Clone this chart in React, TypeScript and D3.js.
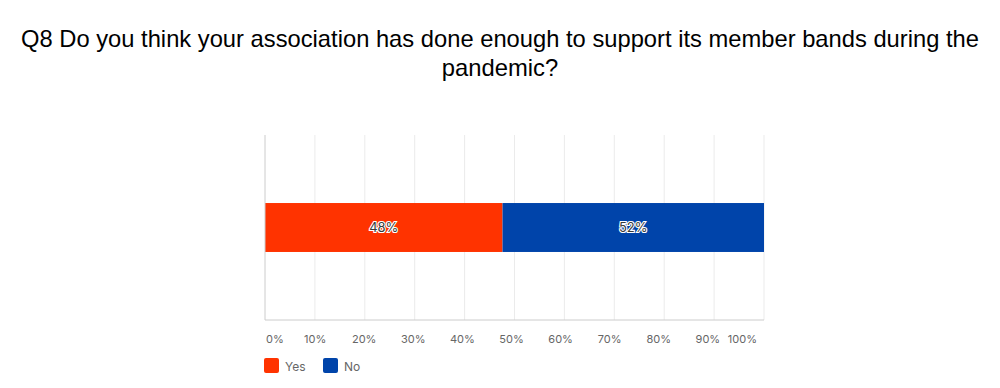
import React, { useRef, useEffect } from 'react';
import * as d3 from 'd3';

// answers and their shares (percent)
const categories = ['Yes', 'No'];
const shares = [47.6, 52.4];
const colors = ['#ff3300', '#0044aa'];
const ticks = [0, 10, 20, 30, 40, 50, 60, 70, 80, 90, 100];
const titleLines = [
  'Q8 Do you think your association has done enough to support its member bands during the',
  'pandemic?',
];

const W = 1000;
const H = 388;

const App: React.FC = () => {
  const ref = useRef<SVGSVGElement>(null);

  useEffect(() => {
    if (!ref.current) return;
    const svg = d3.select(ref.current);
    svg.selectAll('*').remove();

    const margin = { left: 265, right: 236, top: 135, bottom: 68 };
    const x = d3.scaleLinear().domain([0, 100]).range([margin.left, W - margin.right]);
    // tick labels sit on a slightly tighter spacing than the grid
    const xLabel = d3.scaleLinear().domain([0, 100]).range([margin.left + 1, W - margin.right - 7]);
    const y = d3.scaleBand().domain(['row']).range([margin.top, H - margin.bottom])
      .paddingInner(0).paddingOuter(1.39);

    svg.append('rect').attr('width', W).attr('height', H).attr('fill', '#fff');

    // title
    svg.append('g')
      .selectAll('text')
      .data(titleLines)
      .join('text')
      .attr('x', W / 2)
      .attr('y', (_, i) => 47 + i * 29)
      .attr('text-anchor', 'middle')
      .attr('font-family', 'Liberation Sans, Arial, sans-serif')
      .attr('font-size', 23.8)
      .attr('textLength', (_, i) => (i === 0 ? 958 : null))
      .attr('lengthAdjust', 'spacingAndGlyphs')
      .attr('fill', '#000')
      .text(d => d);

    // grid
    svg.append('g')
      .selectAll('line')
      .data(ticks.slice(1))
      .join('line')
      .attr('x1', d => x(d)).attr('x2', d => x(d))
      .attr('y1', margin.top).attr('y2', H - margin.bottom)
      .attr('stroke', '#ebebeb');

    // stacked bar
    const stacked = shares.map((v, i) => ({
      name: categories[i],
      v,
      x0: d3.sum(shares.slice(0, i)),
      color: colors[i],
    }));

    const bars = svg.append('g');
    bars.selectAll('rect')
      .data(stacked)
      .join('rect')
      .attr('x', d => x(d.x0))
      .attr('width', d => x(d.x0 + d.v) - x(d.x0))
      .attr('y', y('row')!)
      .attr('height', y.bandwidth())
      .attr('fill', d => d.color);

    bars.selectAll('text')
      .data(stacked)
      .join('text')
      .attr('x', d => x(d.x0 + d.v / 2))
      .attr('y', y('row')! + y.bandwidth() / 2)
      .attr('dy', '0.35em')
      .attr('text-anchor', 'middle')
      .attr('font-family', 'Inter, Roboto, sans-serif')
      .attr('font-size', 13)
      .attr('fill', '#3a3a3a')
      .attr('stroke', '#fff')
      .attr('stroke-width', 2.2)
      .attr('paint-order', 'stroke')
      .text(d => `${Math.round(d.v)}%`);

    // axes lines
    svg.append('line')
      .attr('x1', margin.left).attr('x2', W - margin.right)
      .attr('y1', H - margin.bottom).attr('y2', H - margin.bottom)
      .attr('stroke', '#ccc');
    svg.append('line')
      .attr('x1', margin.left).attr('x2', margin.left)
      .attr('y1', margin.top).attr('y2', H - margin.bottom)
      .attr('stroke', '#ccc');

    // tick labels
    svg.append('g')
      .selectAll('text')
      .data(ticks)
      .join('text')
      .attr('x', d => xLabel(d))
      .attr('y', H - margin.bottom + 23)
      .attr('text-anchor', (_, i) => (i === 0 ? 'start' : i === ticks.length - 1 ? 'end' : 'middle'))
      .attr('font-family', 'Inter, Roboto, sans-serif')
      .attr('font-size', 11)
      .attr('fill', '#666')
      .text(d => `${d}%`);

    // legend
    const legendX = [264, 323];
    const lg = svg.append('g')
      .selectAll('g')
      .data(categories)
      .join('g')
      .attr('transform', (_, i) => `translate(${legendX[i]},358)`);
    lg.append('rect')
      .attr('width', 15).attr('height', 15).attr('rx', 2)
      .attr('fill', (_, i) => colors[i]);
    lg.append('text')
      .attr('x', 21).attr('y', 13)
      .attr('font-family', 'Inter, Roboto, sans-serif')
      .attr('font-size', 12)
      .attr('fill', '#666')
      .text(d => d);
  }, []);

  return <svg ref={ref} width={W} height={H} style={{ display: 'block', position: 'absolute', left: 0, top: 0 }} />;
};

export default App;
